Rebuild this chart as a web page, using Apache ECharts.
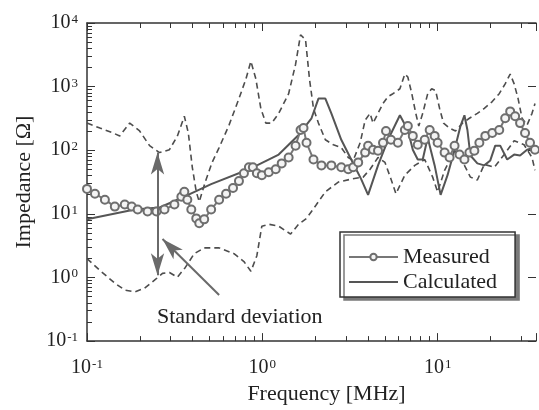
<!DOCTYPE html>
<html>
<head>
<meta charset="utf-8">
<script src="https://cdn.jsdelivr.net/npm/echarts@6/dist/echarts.min.js"></script>
<style>
  html, body { margin: 0; padding: 0; background: #fff; }
  #chart { width: 539px; height: 410px; }
</style>
</head>
<body>
<div id="chart"></div>
<script>
// values (frequency in MHz, impedance in ohm)
const measuredFreq = [0.1, 0.111, 0.1265, 0.1441, 0.1642, 0.1799, 0.1946, 0.2216, 0.2491, 0.2767,
  0.3152, 0.3453, 0.3591, 0.3735, 0.3935, 0.42, 0.4368, 0.4662, 0.5106, 0.567,
  0.6212, 0.6806, 0.7358, 0.7855, 0.8385, 0.8834, 0.9309, 0.9936, 1.088, 1.193,
  1.29, 1.413, 1.548, 1.652, 1.718, 1.787, 1.958, 2.174, 2.476, 2.821,
  3.091, 3.299, 3.523, 3.859, 4.012, 4.282, 4.571, 4.88, 5.076, 5.417,
  5.935, 6.502, 6.761, 7.217, 7.703, 8.44, 9.009, 9.616, 10.0, 10.96,
  11.7, 12.49, 13.33, 14.22, 15.18, 16.2, 17.3, 18.71, 20.49, 22.46,
  24.28, 25.93, 27.67, 29.53, 31.52, 33.65, 35.92];
const measuredZ = [24.7, 20.7, 16.7, 13.0, 14.0, 13.0, 11.7, 10.9, 10.9, 11.7,
  14.0, 18.6, 22.2, 16.7, 11.7, 8.49, 7.11, 8.2, 11.7, 16.7,
  20.7, 25.5, 32.7, 43.5, 53.9, 53.9, 43.5, 40.6, 45.1, 50.2,
  62.1, 76.9, 118, 208, 223, 131, 71.6, 57.8, 57.8, 53.9,
  50.2, 53.9, 64.4, 91.8, 118, 102, 98.6, 131, 201, 146,
  131, 208, 240, 168, 122, 146, 208, 168, 131, 91.8,
  76.9, 118, 85.5, 71.6, 91.8, 98.6, 131, 168, 187, 208,
  318, 408, 342, 267, 187, 131, 102];

const calcFreq = [0.1, 0.1871, 0.2593, 0.3591, 0.5106, 0.8385, 1.24, 1.61, 1.908, 2.09,
  2.289, 2.476, 2.821, 3.214, 3.663, 4.012, 4.571, 5.21, 6.092, 6.761,
  7.217, 7.703, 8.222, 8.777, 9.616, 10.4, 11.39, 12.49, 13.5, 14.22,
  14.79, 15.38, 16.85, 18.46, 19.97, 21.31, 22.75, 24.93, 27.32, 29.53,
  32.36, 35.45];
const calcZ = [8.2, 11.7, 12.6, 18.6, 29.4, 50.2, 85.5, 174, 318, 648,
  648, 380, 146, 71.6, 35.2, 19.9, 57.8, 146, 354, 208,
  102, 71.6, 71.6, 157, 57.8, 19.9, 40.6, 102, 240, 354,
  208, 82.6, 62.1, 57.8, 69.2, 118, 118, 71.6, 85.5, 82.6,
  102, 110];

const upperFreq = [0.1, 0.1185, 0.1404, 0.1538, 0.1752, 0.1996, 0.2275, 0.2593, 0.2954, 0.3279,
  0.3591, 0.3784, 0.3987, 0.42, 0.4368, 0.4723, 0.5174, 0.567, 0.6458, 0.7358,
  0.8062, 0.8607, 0.9188, 0.9806, 1.047, 1.132, 1.24, 1.413, 1.548, 1.652,
  1.764, 1.858, 1.958, 2.09, 2.289, 2.542, 2.821, 3.091, 3.299, 3.615,
  3.859, 4.118, 4.282, 4.571, 4.88, 5.21, 5.561, 6.092, 6.502, 6.761,
  7.123, 7.505, 7.805, 8.222, 8.777, 9.247, 9.743, 10.26, 10.81, 11.7,
  12.65, 13.86, 15.18, 16.85, 18.46, 20.49, 22.46, 24.28, 25.93, 27.32,
  28.77, 30.31, 32.36, 34.54, 35.92];
const upperZ = [267, 223, 187, 168, 267, 201, 118, 91.8, 102, 168,
  342, 187, 53.9, 22.2, 15.5, 31.6, 64.4, 110, 248, 648,
  1318, 2500, 1318, 454, 267, 267, 380, 774, 2250, 6530,
  5470, 1318, 454, 267, 146, 122, 110, 76.9, 69.2, 131,
  296, 380, 267, 380, 543, 697, 774, 925, 1578, 1416,
  774, 380, 240, 380, 774, 925, 861, 454, 267, 223,
  201, 267, 318, 380, 454, 582, 774, 1104, 1578, 1104,
  648, 318, 248, 380, 543];

const lowerFreq = [0.1, 0.1185, 0.1441, 0.1642, 0.1871, 0.2131, 0.2427, 0.2696, 0.2954, 0.3279,
  0.3638, 0.4092, 0.4662, 0.567, 0.6894, 0.7855, 0.8607, 0.9309, 0.9936, 1.088,
  1.24, 1.45, 1.61, 1.787, 2.036, 2.289, 2.713, 3.214, 3.76, 4.118,
  4.571, 5.009, 5.417, 5.783, 6.502, 7.407, 8.44, 9.37, 10.0, 10.96,
  12.49, 13.5, 15.38, 16.85, 18.46, 21.04, 23.97, 27.32, 31.11, 34.54,
  35.92];
const lowerZ = [1.98, 1.29, 0.814, 0.635, 0.592, 0.681, 0.906, 1.16, 1.2, 1.01,
  1.44, 2.37, 2.92, 2.92, 2.37, 1.78, 1.25, 2.2, 6.4, 6.86,
  6.4, 4.81, 6.86, 8.49, 14.0, 22.2, 31.6, 35.2, 37.8, 50.2,
  76.9, 64.4, 35.2, 20.7, 40.6, 57.8, 71.6, 37.8, 22.2, 48.4,
  98.6, 76.9, 37.8, 34.0, 60.0, 53.9, 85.5, 141, 122, 76.9,
  48.4];

// annotation: double arrow over the standard deviation band, pointer from the text
const sdArrowFreq = 0.2525;
const sdArrowZ = [91.8, 1.08];
const pointerFreq = [0.2696, 0.567];
const pointerZ = [4.03, 0.531];

// axis range (the plot runs on past the right edge of the picture)
const freqRange = [0.1, 36.4];
const zRange = [0.1, 10000];

const legendNames = ['Measured', 'Calculated'];

const FONT = 'Liberation Serif';
const pairs = (xs, ys) => xs.map((x, i) => [x, ys[i]]);

function powLabel(v) {
    const e = Math.log10(v);
    const r = Math.round(e);
    if (Math.abs(e - r) > 1e-6) return '';
    return '10{sup|' + r + '}';
}

function labelStyle(margin) {
    return {
        margin: margin,
        fontFamily: FONT,
        fontSize: 20,
        color: '#222',
        formatter: powLabel,
        rich: {
            sup: { fontFamily: FONT, fontSize: 13, color: '#222', verticalAlign: 'top', padding: [0, 0, 0, 1] }
        }
    };
}

// inside ticks with 2..9 minor ticks per decade
function axisBase(showLine, withMinor) {
    return {
        axisLine: { show: showLine, lineStyle: { color: '#333', width: 1.5 } },
        axisTick: { show: true, inside: true, length: 8, lineStyle: { color: '#333', width: 1 } },
        minorTick: { show: withMinor, splitNumber: 9, length: 5, lineStyle: { color: '#333', width: 1 } },
        splitLine: { show: false }
    };
}

const chart = echarts.init(document.getElementById('chart'), null, { renderer: 'canvas' });

chart.setOption({
    animation: false,
    backgroundColor: '#fff',
    grid: { left: 87, top: 23, right: 0, bottom: 63 },
    legend: {
        data: [
            { name: legendNames[0] },
            { name: legendNames[1], icon: 'path://M0,0H49V2H0Z' }
        ],
        orient: 'vertical',
        left: 340,
        top: 232,
        itemWidth: 49,
        itemHeight: 8,
        itemGap: 3,
        symbolKeepAspect: true,
        padding: [14, 18, 4, 8],
        backgroundColor: '#fff',
        borderColor: '#333',
        borderWidth: 1.5,
        borderRadius: 0,
        shadowColor: '#7a7a7a',
        shadowBlur: 0,
        shadowOffsetX: 4,
        shadowOffsetY: 3,
        selectedMode: false,
        textStyle: { fontFamily: FONT, fontSize: 22, color: '#222' }
    },
    xAxis: [
        Object.assign({
            type: 'log', logBase: 10, min: freqRange[0], max: freqRange[1], position: 'bottom',
            axisLabel: labelStyle(17),
            name: 'Frequency [MHz]', nameLocation: 'middle', nameGap: 36,
            nameTextStyle: { fontFamily: FONT, fontSize: 22, color: '#222', padding: [0, 0, 0, 30] }
        }, axisBase(true, true)),
        Object.assign({
            type: 'log', logBase: 10, min: freqRange[0], max: freqRange[1], position: 'top',
            axisLabel: { show: false }
        }, axisBase(true, true))
    ],
    yAxis: [
        Object.assign({
            type: 'log', logBase: 10, min: zRange[0], max: zRange[1], position: 'left',
            axisLabel: labelStyle(9),
            name: 'Impedance [\u03A9]', nameLocation: 'middle', nameGap: 51,
            nameTextStyle: { fontFamily: FONT, fontSize: 22, color: '#222' }
        }, axisBase(true, true)),
        Object.assign({
            type: 'log', logBase: 10, min: zRange[0], max: zRange[1], position: 'right',
            axisLabel: { show: false }
        }, axisBase(false, false))
    ],
    graphic: [
        {
            type: 'text', left: 157, top: 306, silent: true,
            style: { text: 'Standard deviation', font: '22px "Liberation Serif"', fill: '#222' }
        }
    ],
    series: [
        {
            name: 'SD upper', type: 'line', data: pairs(upperFreq, upperZ),
            symbol: 'none', silent: true, z: 2,
            lineStyle: { color: '#4d4d4d', width: 1.6, type: [6, 4] }
        },
        {
            name: 'SD lower', type: 'line', data: pairs(lowerFreq, lowerZ),
            symbol: 'none', silent: true, z: 2,
            lineStyle: { color: '#4d4d4d', width: 1.6, type: [6, 4] }
        },
        {
            name: 'Calculated', type: 'line', data: pairs(calcFreq, calcZ),
            symbol: 'none', silent: true, z: 3,
            itemStyle: { color: '#555' },
            lineStyle: { color: '#555', width: 2 },
            markLine: {
                silent: true,
                animation: false,
                symbol: ['arrow', 'arrow'],
                symbolSize: [10, 22],
                label: { show: false },
                lineStyle: { color: '#6a6a6a', width: 2, type: 'solid' },
                emphasis: { disabled: true },
                data: [
                    [{ coord: [sdArrowFreq, sdArrowZ[0]] }, { coord: [sdArrowFreq, sdArrowZ[1]] }],
                    [{ coord: [pointerFreq[0], pointerZ[0]], symbol: 'arrow' },
                     { coord: [pointerFreq[1], pointerZ[1]], symbol: 'none' }]
                ]
            }
        },
        {
            name: 'Measured', type: 'line', data: pairs(measuredFreq, measuredZ),
            symbol: 'circle', symbolSize: 8, showAllSymbol: true, silent: true, z: 4,
            itemStyle: { color: '#f4f4f4', borderColor: '#6e6e6e', borderWidth: 2 },
            lineStyle: { color: '#777', width: 2 }
        }
    ]
});
</script>
</body>
</html>
